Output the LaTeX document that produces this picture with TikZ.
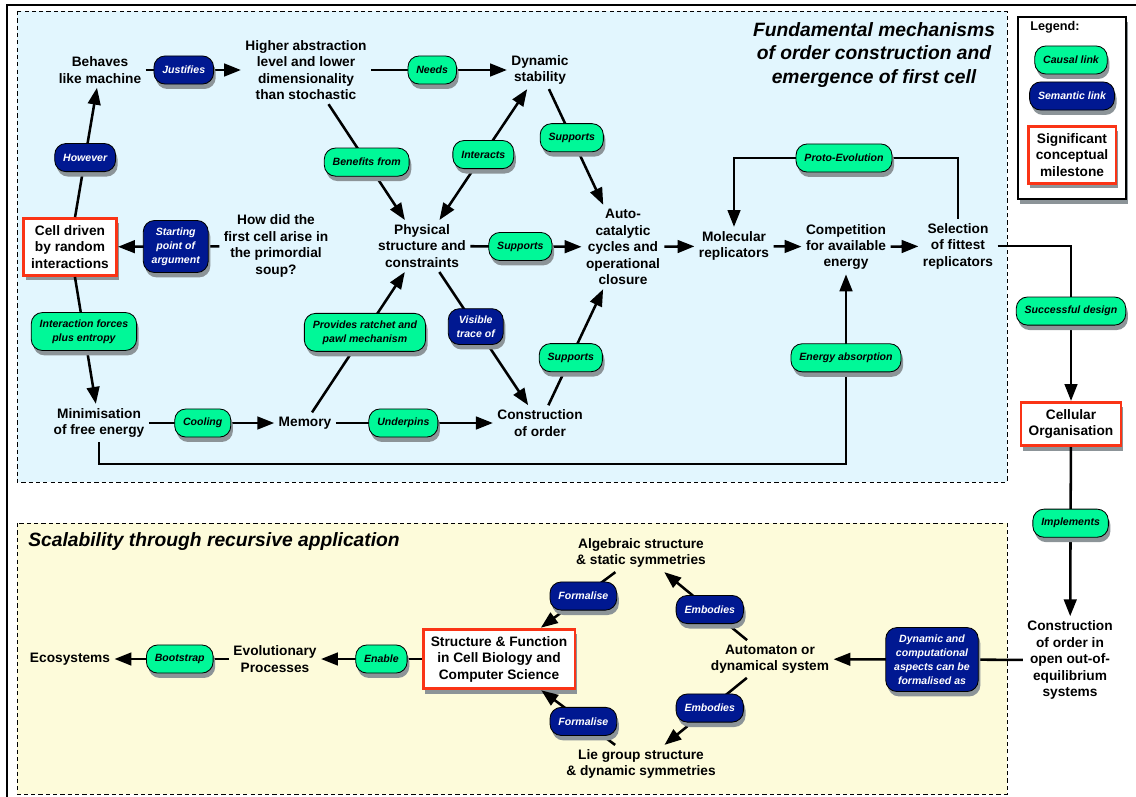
\documentclass[tikz,border=0pt]{standalone}
\usepackage{fontspec}
\setmainfont{Liberation Sans}
\usetikzlibrary{arrows.meta,shapes.misc,shadows,backgrounds,positioning}
\definecolor{causalgreen}{RGB}{0,248,152}
\definecolor{semblue}{RGB}{0,24,145}
\definecolor{milered}{RGB}{250,52,22}
\definecolor{skybg}{RGB}{226,246,254}
\definecolor{creambg}{RGB}{253,251,218}
\definecolor{shadowgrey}{RGB}{140,148,152}
\tikzset{
  concept/.style={
    align=center, inner sep=3pt,
    font=\fontsize{9.75}{11.7}\selectfont\bfseries},
  boxshadow/.style={
    preaction={fill=shadowgrey, draw=none,
                transform canvas={shift={(1.5pt,-3.5pt)}}}},
  milestone/.style={
    boxshadow, concept, draw=milered, line width=2pt, fill=white,
    inner xsep=5.5pt, inner ysep=5pt},
  causal/.style={
    boxshadow, rectangle, rounded corners=8pt, draw=black, line width=0.6pt,
    fill=causalgreen, text=black, align=center,
    font=\fontsize{7.5}{10}\selectfont\bfseries\itshape,
    minimum height=20pt, inner xsep=6pt, inner ysep=5pt},
  semantic/.style={causal, fill=semblue, text=white},
  link/.style={line width=1.8pt, >={Triangle[length=12pt,width=9pt]}, ->},
  region/.style={draw, dashed, line width=0.7pt,
    dash pattern=on 3pt off 2.2pt},
  heading/.style={inner sep=0pt,
    font=\fontsize{13.7}{16.7}\selectfont\bfseries\itshape}
}

\begin{document}
\begin{tikzpicture}[x=0.025cm, y=-0.025cm]
\useasboundingbox (0,0) rectangle (1136,796);

\begin{scope}[on background layer]
  \draw[line width=0.8pt] (7,5) rectangle (1140,800);
  \draw[region, fill=skybg] (17,11) rectangle (1007,482);
  \draw[region, fill=creambg] (17,523) rectangle (1007,794);
  \draw[boxshadow, line width=0.8pt, fill=white] (1018,17) rectangle (1126,199);
\end{scope}

% headings and legend
\node[heading, align=center] (title) at (874,55)
  {Fundamental mechanisms\\of order construction and\\emergence of first cell};
\node[heading, anchor=west] (scaling) at (28,542)
  {Scalability through recursive application};
\node[concept, font=\fontsize{9}{11}\selectfont\bfseries] (legtitle) at (1055,27) {Legend:};
\node[causal] (legcausal) at (1071,60) {Causal link};
\node[semantic] (legsemantic) at (1072,96) {Semantic link};
\node[milestone] (legmile) at (1072,155) {Significant\\conceptual\\milestone};

% first cell
\node[concept] (machine) at (100,70) {Behaves\\like machine};
\node[concept] (abstract) at (306,70)
  {Higher abstraction\\level and lower\\dimensionality\\than stochastic};
\node[concept] (stability) at (540,70) {Dynamic\\stability};
\node[milestone] (random) at (70,247) {Cell driven\\by random\\interactions};
\node[concept] (soup) at (276,246)
  {How did the\\first cell arise in\\the primordial\\soup?};
\node[concept] (physical) at (422,246) {Physical\\structure and\\constraints};
\node[concept] (autocat) at (623,247)
  {Auto-\\catalytic\\cycles and\\operational\\closure};
\node[concept] (replic) at (734,246) {Molecular\\replicators};
\node[concept] (compet) at (846,247) {Competition\\for available\\energy};
\node[concept] (select) at (958,246) {Selection\\of fittest\\replicators};
\node[concept] (freeen) at (99,423) {Minimisation\\of free energy};
\node[concept] (memory) at (305,423) {Memory};
\node[concept] (order) at (540,423) {Construction\\of order};
\coordinate (evoltop) at (844,158);
\coordinate (energybase) at (500,464);

% right column
\node[milestone] (cellorg) at (1071,424) {Cellular\\Organisation};
\node[concept] (openorder) at (1070,660)
  {Construction\\of order in\\open out-of-\\equilibrium\\systems};

% scalability
\node[concept] (automaton) at (770,659) {Automaton or\\dynamical system};
\node[concept] (algebra) at (641,553) {Algebraic structure\\\& static symmetries};
\node[concept] (liegroup) at (641,764) {Lie group structure\\\& dynamic symmetries};
\node[milestone] (structfun) at (499,659)
  {Structure \& Function\\in Cell Biology and\\Computer Science};
\node[concept] (evol) at (275,659) {Evolutionary\\Processes};
\node[concept] (eco) at (70,659) {Ecosystems};

% links
\draw[link] (machine) -- node[semantic, pos=0.4] {Justifies} (abstract);
\draw[link] (abstract) -- node[causal, pos=0.45] {Needs} (stability);
\draw[link] (abstract) -- node[causal] {Benefits from} (physical);
\draw[link, <->] (physical) -- node[causal] {Interacts} (stability);
\draw[link] (stability) -- node[causal, pos=0.42] {Supports} (autocat);
\draw[link] (physical) -- node[causal, pos=0.45] {Supports} (autocat);
\draw[link] (autocat) -- (replic);
\draw[link] (replic) -- (compet);
\draw[link] (compet) -- (select);
\draw[link] (soup) -- node[semantic, pos=0.43] {Starting\\point of\\argument} (random);
\draw[link] (random) -- node[semantic, pos=0.46] {However} (machine);
\draw[link] (random) -- node[causal, pos=0.43] {Interaction forces\\plus entropy} (freeen);
\draw[link] (freeen) -- node[causal, pos=0.43] {Cooling} (memory);
\draw[link] (memory) -- node[causal, pos=0.43] {Underpins} (order);
\draw[link] (memory) -- node[causal, pos=0.57] {Provides ratchet and\\pawl mechanism} (physical);
\draw[link] (physical) -- node[semantic, pos=0.41] {Visible\\trace of} (order);
\draw[link] (order) -- node[causal, pos=0.41] {Supports} (autocat);
\draw[link] (select.north) |- (evoltop) node[causal] {Proto-Evolution} -| (replic.north);
\draw[link] (freeen.south) |- (energybase)
  -| node[causal, pos=0.78] {Energy absorption} (compet.south);
\draw[link] (select.east) -| node[causal, pos=0.71] {Successful design} (cellorg.north);
\draw[link] (cellorg) -- node[causal, pos=0.45] {Implements} (openorder);
\draw[link] (openorder) -- node[semantic, pos=0.48]
  {Dynamic and\\computational\\aspects can be\\formalised as} (automaton);
\draw[link] (automaton) -- node[semantic, pos=0.45] {Embodies} (algebra);
\draw[link] (automaton) -- node[semantic, pos=0.45] {Embodies} (liegroup);
\draw[link] (algebra) -- node[semantic, pos=0.43] {Formalise} (structfun);
\draw[link] (liegroup) -- node[semantic, pos=0.43] {Formalise} (structfun);
\draw[link] (structfun) -- node[causal, pos=0.4] {Enable} (evol);
\draw[link] (evol) -- node[causal, pos=0.43] {Bootstrap} (eco);

\end{tikzpicture}
\end{document}
